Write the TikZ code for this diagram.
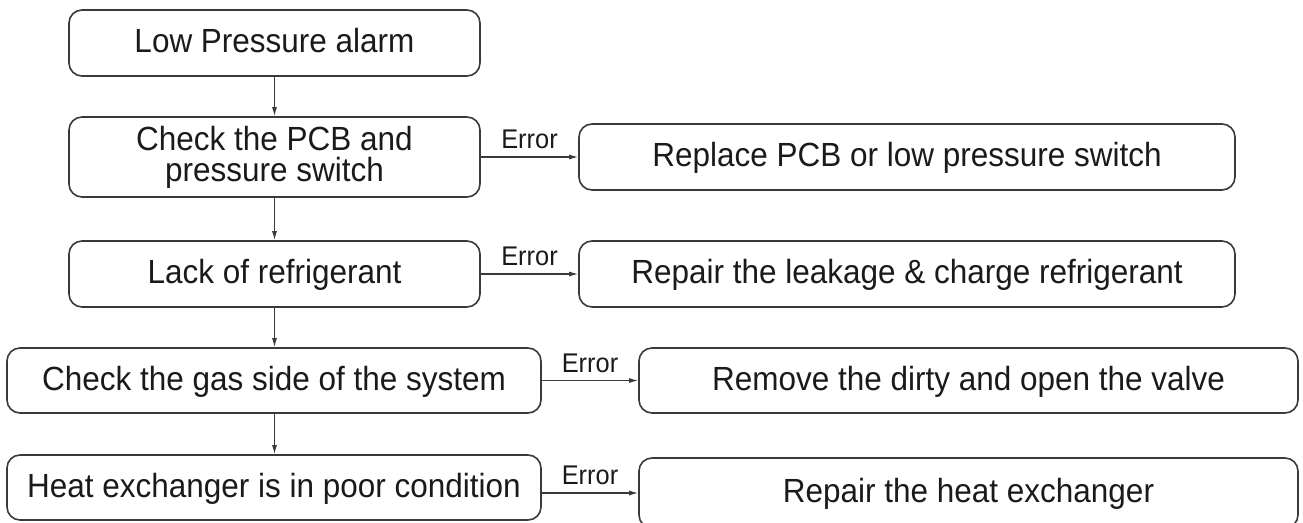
\documentclass[tikz,border=0pt]{standalone}
\usepackage{fontspec}
\setmainfont{Liberation Sans}[FakeStretch=0.94]
\usetikzlibrary{arrows.meta}
\definecolor{edge}{HTML}{3A3A3A}
\definecolor{ink}{HTML}{1A1A1A}
\begin{document}
\begin{tikzpicture}[x=1pt,y=-1pt,
  box/.style={draw=edge, line width=1.6pt, rounded corners=13pt, inner sep=0pt,
    font=\fontsize{33.5}{31}\selectfont, align=center, text=ink},
  one/.style={text height=24pt, text depth=5pt},
  flow/.style={draw=edge, line width=1.1pt, -{Latex[length=9pt,width=5pt]}},
  lbl/.style={font=\fontsize{27}{27}\selectfont, anchor=base, inner sep=0pt, text=ink}]
\useasboundingbox (0,0) rectangle (1303,522);
% left column
\node[box,one,minimum width=411pt,minimum height=66pt] (b1) at (274.5,43) {Low Pressure alarm};
\node[box,minimum width=411pt,minimum height=80pt] (b2) at (274.5,157) {Check the PCB and\\pressure switch};
\node[box,one,minimum width=411pt,minimum height=66pt] (b3) at (274.5,274) {Lack of refrigerant};
\node[box,one,minimum width=534pt,minimum height=65pt] (b4) at (274,380.5) {Check the gas side of the system};
\node[box,one,minimum width=534pt,minimum height=65pt] (b5) at (274,487.5) {Heat exchanger is in poor condition};
% right column
\node[box,one,minimum width=656pt,minimum height=66pt] (r1) at (907,157) {Replace PCB or low pressure switch};
\node[box,one,minimum width=656pt,minimum height=66pt] (r2) at (907,274) {Repair the leakage \& charge refrigerant};
\node[box,one,minimum width=659pt,minimum height=65pt] (r3) at (968.5,380.5) {Remove the dirty and open the valve};
\node[box,one,minimum width=659pt,minimum height=70pt] (r4) at (968.5,493) {Repair the heat exchanger};
% vertical flow
\draw[flow] (b1.south) -- (b2.north);
\draw[flow] (b2.south) -- (b3.north);
\draw[flow] (b3.south) -- (b3.south |- b4.north);
\draw[flow] (b3.south |- b4.south) -- (b3.south |- b5.north);
% error branches
\draw[flow] (b2.east |- r1.west) -- (r1.west);
\draw[flow] (b3.east |- r2.west) -- (r2.west);
\draw[flow] (b4.east |- r3.west) -- (r3.west);
\draw[flow] (b5.east |- r4.west) -- (r4.west);
\node[lbl] (e1) at (529.5,148.5) {Error};
\node[lbl] (e2) at (529.5,265.5) {Error};
\node[lbl] (e3) at (590,372) {Error};
\node[lbl] (e4) at (590,484.5) {Error};
\end{tikzpicture}
\end{document}
